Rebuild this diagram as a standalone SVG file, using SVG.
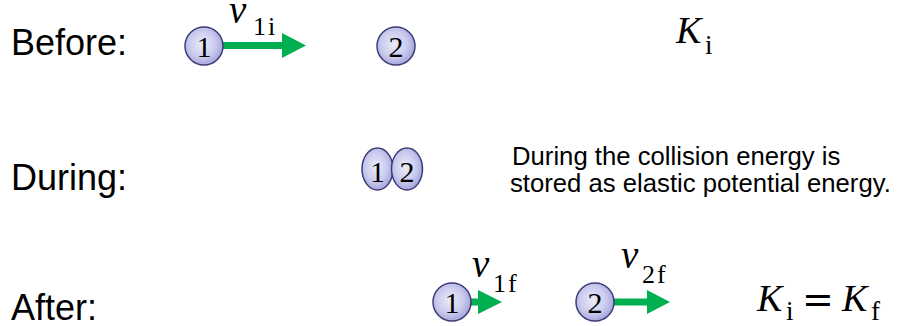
<svg xmlns="http://www.w3.org/2000/svg" width="903" height="326" viewBox="0 0 903 326">
<style>
.lbl{font-family:"Liberation Sans",Arial,sans-serif;font-size:36px;fill:#000}
.note{font-family:"Liberation Sans",Arial,sans-serif;font-size:25.7px;fill:#000}
.ball{fill:url(#bg);stroke:#3c3c7a;stroke-width:1.5}
.num{font-family:"Liberation Serif","Times New Roman",serif;font-size:30px;fill:#000;text-anchor:middle}
.v{font-family:"Liberation Serif","Times New Roman",serif;font-style:italic;font-size:39px;fill:#000}
.sub{font-family:"Liberation Serif","Times New Roman",serif;font-size:26px;letter-spacing:2px;fill:#000}
.mi{font-family:"Liberation Serif","Times New Roman",serif;font-style:italic;fill:#000}
.mr{font-family:"Liberation Serif","Times New Roman",serif;fill:#000}
.arr{stroke:#00b050;stroke-width:7;fill:none}
.head{fill:#00b050}
</style>
<defs>
<radialGradient id="bg" cx="0.45" cy="0.45" r="0.6">
<stop offset="0" stop-color="#ececfb"/>
<stop offset="0.6" stop-color="#c9c9ee"/>
<stop offset="1" stop-color="#9d9dd6"/>
</radialGradient>
</defs>
<text class="lbl" x="11" y="55">Before:</text>
<text class="lbl" x="11" y="190">During:</text>
<text class="lbl" x="11" y="320">After:</text>
<g id="connectors">
<line class="arr" x1="222" y1="45.5" x2="284" y2="45.5"/>
<polygon class="head" points="282,33 306,45.5 282,58"/>
<line class="arr" x1="471" y1="302" x2="480" y2="302"/>
<polygon class="head" points="478,290 502,302 478,314"/>
<line class="arr" x1="612" y1="302" x2="649" y2="302"/>
<polygon class="head" points="647,290 670,302 647,314"/>
</g>
<g id="before-ball1">
<circle class="ball" cx="204" cy="46" r="19"/>
<text class="num" x="204" y="57">1</text>
</g>
<g id="before-ball2">
<circle class="ball" cx="396" cy="46" r="19"/>
<text class="num" x="396" y="57">2</text>
</g>
<g id="before-v1i">
<text class="v" x="229" y="23">v</text>
<text class="sub" x="253" y="35">1i</text>
</g>
<g id="before-K">
<text class="mi" x="676" y="43" font-size="38">K</text>
<text class="mr" x="705" y="54" font-size="27">i</text>
</g>
<g id="during-ball1">
<ellipse class="ball" cx="377.5" cy="169" rx="15.5" ry="21"/>
<text class="num" x="377.5" y="182" font-size="34">1</text>
</g>
<g id="during-ball2">
<ellipse class="ball" cx="407" cy="169" rx="15.5" ry="21"/>
<text class="num" x="407" y="182" font-size="34">2</text>
</g>
<g id="during-note">
<text class="note" x="512" y="165">During the collision energy is</text>
<text class="note" x="510" y="192">stored as elastic potential energy.</text>
</g>
<g id="after-ball1">
<circle class="ball" cx="452" cy="302" r="19"/>
<text class="num" x="452" y="313">1</text>
</g>
<g id="after-ball2">
<circle class="ball" cx="595" cy="302" r="19"/>
<text class="num" x="595" y="313">2</text>
</g>
<g id="after-v1f">
<text class="v" x="472" y="277">v</text>
<text class="sub" x="493" y="292">1f</text>
</g>
<g id="after-v2f">
<text class="v" x="621" y="268">v</text>
<text class="sub" x="642" y="283">2f</text>
</g>
<g id="after-K">
<text class="mi" x="757" y="311" font-size="38">K</text>
<text class="mr" x="786" y="320" font-size="27">i</text>
<text x="802" y="312" font-family="DejaVu Sans,sans-serif" font-size="38" fill="#000">=</text>
<text class="mi" x="842" y="311" font-size="38">K</text>
<text class="mr" x="871" y="320" font-size="27">f</text>
</g>
</svg>
